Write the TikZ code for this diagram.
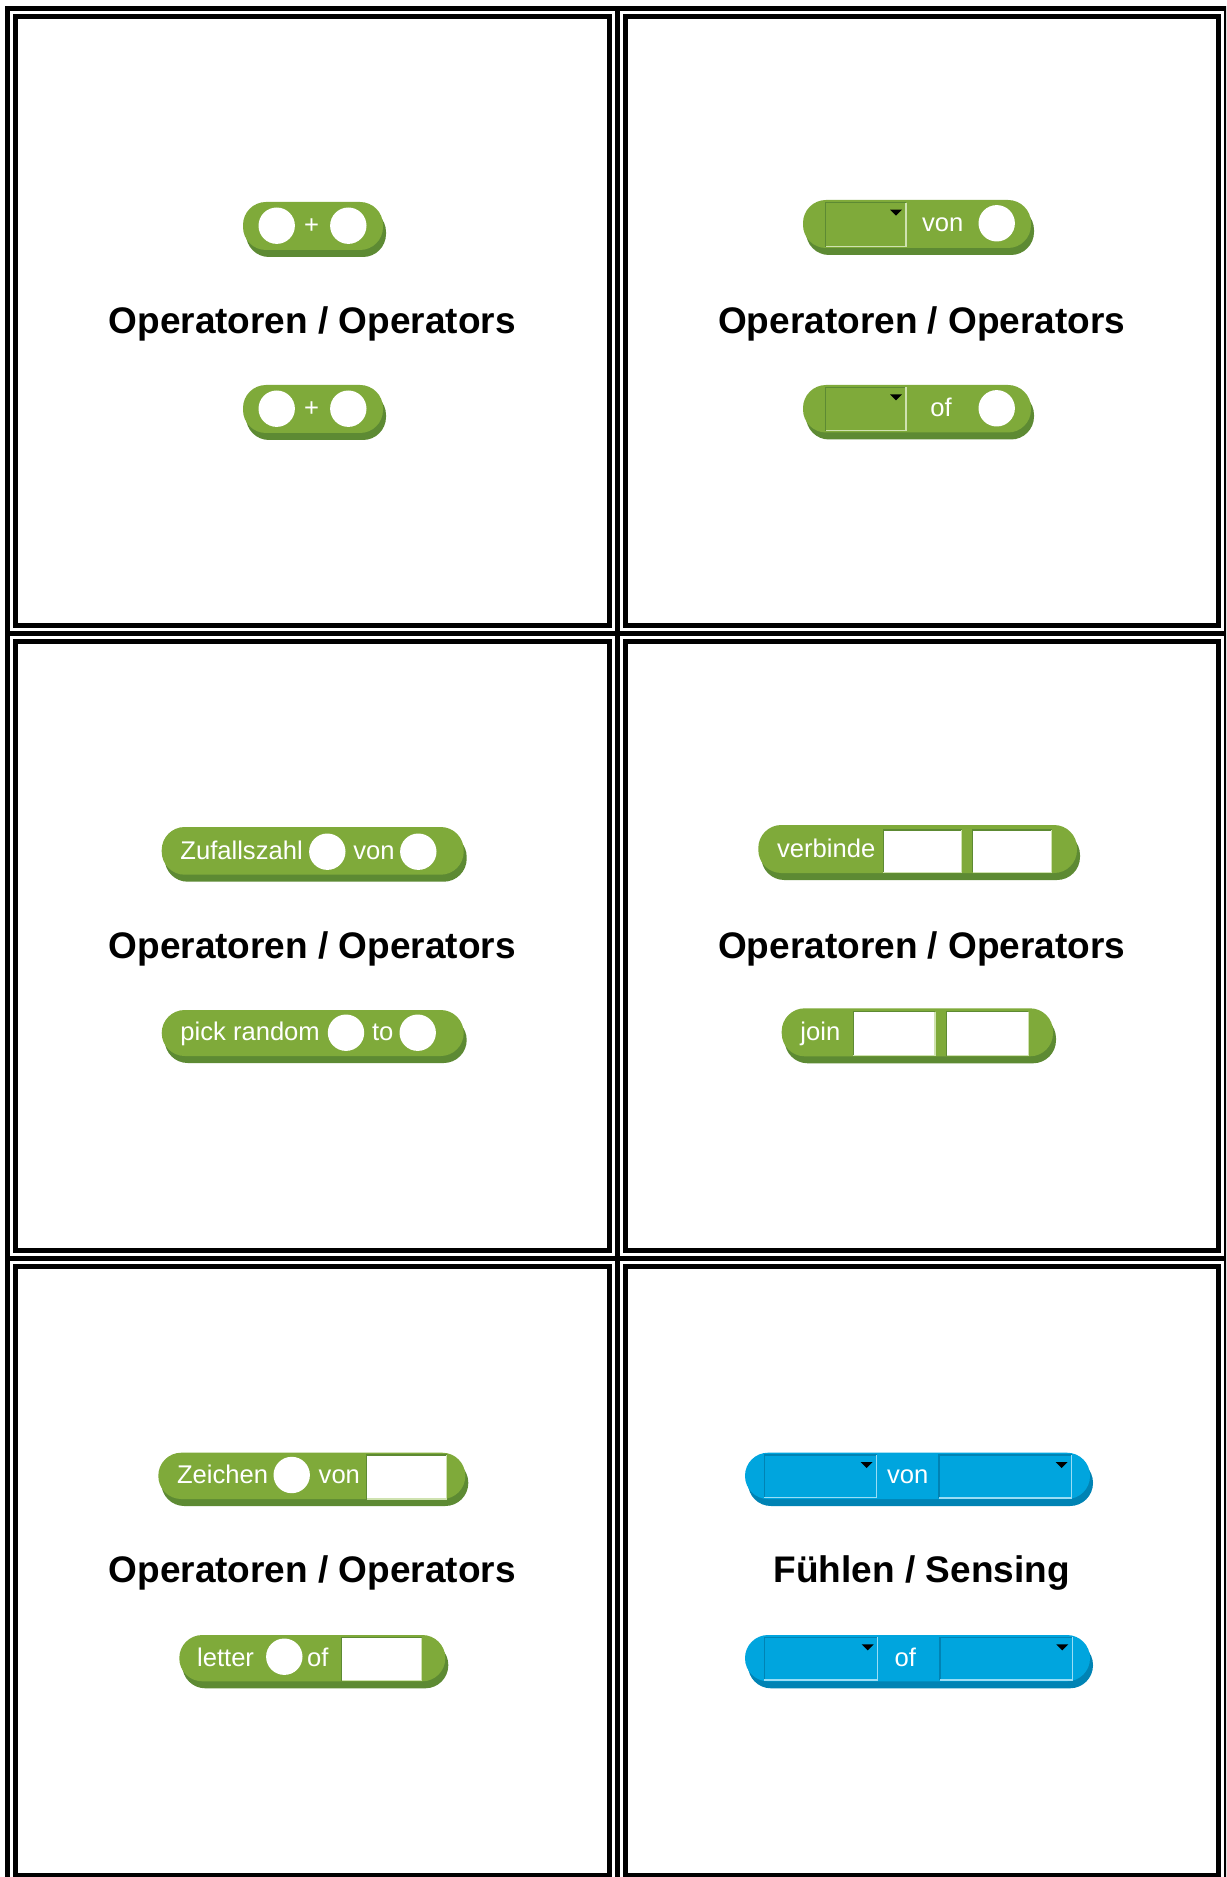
\documentclass[tikz,border=0pt]{standalone}
\usepackage{fontspec}
\setmainfont{Liberation Sans}
\definecolor{opg}{HTML}{7FAA3A}
\definecolor{opgd}{HTML}{5D8A33}
\definecolor{opgl}{HTML}{CFE2B0}
\definecolor{snb}{HTML}{00A5DE}
\definecolor{snbd}{HTML}{0083B4}
\definecolor{snbl}{HTML}{9ADDF5}
\newcommand\scblock[6]{%
  \fill[#6, rounded corners=11.5pt] (#1+3,#2+7) rectangle (#3,#4);
  \fill[#5, rounded corners=11.5pt] (#1,#2) rectangle (#3-3,#4-7);}
\newcommand\scslot[4]{%
  \fill[white] (#1,#2) rectangle (#3,#4);
  \draw[opgd, line width=0.6pt] (#1,#4) -- (#1,#2) -- (#3,#2);
  \draw[opgl, line width=0.6pt] (#3,#2) -- (#3,#4) -- (#1,#4);}
\newcommand\scdrop[6]{%
  \draw[#5, line width=0.75pt] (#1,#4) -- (#1,#2) -- (#3,#2);
  \draw[#6, line width=0.75pt] (#3,#2) -- (#3,#4) -- (#1,#4);
  \fill[black] (#3-16,#2+7) -- (#3-4,#2+7) -- (#3-10,#2+13) -- cycle;}
\newcommand\sccirc[2]{\fill[white] (#1,#2) circle[radius=9.1pt];}
\begin{document}
\begin{tikzpicture}[x=0.5pt,y=-0.5pt,
  frame/.style={line width=2.5pt},
  cardtitle/.style={font=\bfseries\fontsize{18.5}{22}\selectfont, anchor=base, inner sep=0pt},
  bt/.style={font=\fontsize{12.8}{15}\selectfont, text=white, anchor=base west, inner sep=0pt},
]
\useasboundingbox (0,0) rectangle (1226,1877);
\clip (0,0) rectangle (1226,1877);
\fill[white] (0,0) rectangle (1226,1877);
% table frames
\draw[frame] (7.5,8.5) rectangle (1226.2,1884);
\draw[frame] (617.5,8.5) -- (617.5,1884);
\draw[frame] (7.5,633) -- (1226.2,633);
\draw[frame] (7.5,1258) -- (1226.2,1258);
\foreach \yt in {16.5,641.5,1266.5} {
  \draw[frame] (15.5,\yt) rectangle (609,\yt+608.5);
  \draw[frame] (625,\yt) rectangle (1218.5,\yt+608.5);
}
% titles
\node[cardtitle] (title1) at (312.25,333.3) {Operatoren / Operators};
\node[cardtitle] (title2) at (921.75,333.3) {Operatoren / Operators};
\node[cardtitle] (title3) at (312.25,958) {Operatoren / Operators};
\node[cardtitle] (title4) at (921.75,958) {Operatoren / Operators};
\node[cardtitle] (title5) at (312.25,1582.8) {Operatoren / Operators};
\node[cardtitle] (title6) at (921.75,1582.8) {Fühlen / Sensing};

% cell 1
\scblock{243}{202}{386}{257}{opg}{opgd}
\sccirc{276.7}{225.7}
\sccirc{348.3}{225.7}
\node[bt, anchor=base] (plusA) at (311.7,234) {+};
\scblock{243}{385}{386}{440}{opg}{opgd}
\sccirc{276.7}{408.7}
\sccirc{348.3}{408.7}
\node[bt, anchor=base] (plusB) at (311.7,417) {+};

% cell 2
\scblock{803}{200}{1034}{255}{opg}{opgd}
\scdrop{825.7}{202.7}{906}{246.7}{opgd}{opgl}
\node[bt] (vonA) at (921.7,232) {von};
\sccirc{996.7}{223.3}
\scblock{803}{385}{1034}{439.5}{opg}{opgd}
\scdrop{825.7}{387.3}{906}{430.7}{opgd}{opgl}
\node[bt] (ofA) at (930,416.5) {of};
\sccirc{996.7}{408.3}

% cell 3
\scblock{161.7}{827}{466.7}{881.7}{opg}{opgd}
\node[bt] (zuf) at (180,859) {Zufallszahl};
\sccirc{327.3}{851.7}
\node[bt] (vonB) at (353,859) {von};
\sccirc{418.3}{851.7}
\scblock{161.7}{1010}{466.7}{1063}{opg}{opgd}
\node[bt] (pick) at (180,1040.5) {pick random};
\sccirc{346}{1032.7}
\node[bt] (toA) at (371.7,1040.5) {to};
\sccirc{417.7}{1032.7}

% cell 4
\scblock{758.3}{825}{1080}{880}{opg}{opgd}
\node[bt] (verb) at (776.7,857) {verbinde};
\scslot{883.3}{830}{961.7}{872.3}
\scslot{972.7}{830}{1051.7}{872.3}
\scblock{781.7}{1008.3}{1056}{1063.3}{opg}{opgd}
\node[bt] (join) at (800,1040.3) {join};
\scslot{853.3}{1011.7}{935}{1055.7}
\scslot{946.7}{1011.7}{1028.3}{1055.7}

% cell 5
\scblock{158.3}{1452.7}{468.3}{1506}{opg}{opgd}
\node[bt] (zei) at (176.7,1483.7) {Zeichen};
\sccirc{291.7}{1475}
\node[bt] (vonC) at (318.3,1483.7) {von};
\scslot{366.7}{1455}{446.7}{1499}
\scblock{179.3}{1635}{448.3}{1688.3}{opg}{opgd}
\node[bt] (let) at (196.7,1666) {letter};
\sccirc{284.3}{1656.7}
\node[bt] (ofB) at (306.7,1666) {of};
\scslot{341.7}{1637.7}{421.7}{1680.7}

% cell 6
\scblock{745}{1452.7}{1093}{1506}{snb}{snbd}
\scdrop{764.3}{1455}{876.7}{1497.7}{snbd}{snbl}
\node[bt] (vonD) at (886.7,1483.7) {von};
\scdrop{939}{1455}{1071.7}{1498}{snbd}{snbl}
\scblock{745}{1635}{1093}{1688.3}{snb}{snbd}
\scdrop{764.3}{1637.3}{877.7}{1680}{snbd}{snbl}
\node[bt] (ofC) at (894.3,1666) {of};
\scdrop{940}{1637.3}{1072.3}{1680}{snbd}{snbl}
\end{tikzpicture}
\end{document}
